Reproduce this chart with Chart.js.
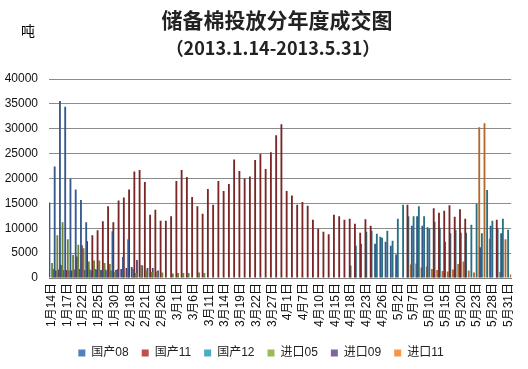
<!DOCTYPE html>
<html>
<head>
<meta charset="utf-8">
<title>储备棉投放分年度成交图</title>
<script src="https://cdn.jsdelivr.net/npm/chart.js@4.4.0/dist/chart.umd.min.js"></script>
<style>
  html, body { margin: 0; padding: 0; background: #fff; }
  #wrap { position: relative; width: 528px; height: 369px; overflow: hidden; }
  #chart { position: absolute; left: 0; top: 0; }
  .txt { position: absolute; font-family: "Noto Sans CJK SC", sans-serif; font-weight: bold; color: #222; white-space: nowrap; }
  #t1 { left: 13px; width: 528px; text-align: center; top: 9px; font-size: 21px; line-height: 21px; }
  #t2 { left: 9px; width: 528px; text-align: center; top: 38px; font-size: 18px; line-height: 18px; }
  #unit { left: 21px; top: 23px; font-size: 14px; line-height: 14px; font-weight: normal; color: #000; }
</style>
</head>
<body>
<div id="wrap">
  <canvas id="chart" width="528" height="369"></canvas>
  <div class="txt" id="t1">储备棉投放分年度成交图</div>
  <div class="txt" id="t2">（2013.1.14-2013.5.31）</div>
  <div class="txt" id="unit">吨</div>
</div>
<script>
// trading days, 1/14 - 5/31 (88 days)
var dates = [
  '1月14日','1月15日','1月16日','1月17日','1月18日','1月21日','1月22日','1月23日','1月24日','1月25日',
  '1月28日','1月29日','1月30日','1月31日','2月1日','2月18日','2月19日','2月20日','2月21日','2月22日',
  '2月25日','2月26日','2月27日','2月28日','3月1日','3月4日','3月5日','3月6日','3月7日','3月8日',
  '3月11日','3月12日','3月13日','3月14日','3月15日','3月18日','3月19日','3月20日','3月21日','3月22日',
  '3月25日','3月26日','3月27日','3月28日','3月29日','4月1日','4月2日','4月3日','4月7日','4月8日',
  '4月9日','4月10日','4月11日','4月12日','4月15日','4月16日','4月17日','4月18日','4月19日','4月22日',
  '4月23日','4月24日','4月25日','4月26日','4月27日','4月28日','5月2日','5月3日','5月6日','5月7日',
  '5月8日','5月9日','5月10日','5月13日','5月14日','5月15日','5月16日','5月17日','5月20日','5月21日',
  '5月22日','5月23日','5月24日','5月27日','5月28日','5月29日','5月30日','5月31日'
];

var seriesNames = ['国产08', '国产11', '国产12', '进口05', '进口09', '进口11'];

var guochan08 = [
  15200, 22400, 35600, 34400, 20000, 17800, 15700, 11200, 1500, 1700,
  1600, 1500, 9400, 1800, 4200, 7800, 1800, null, null, null,
  null, null, null, null, null, null, null, null, null, null,
  null, null, null, null, null, null, null, null, null, null,
  null, null, null, null, null, null, null, null, null, null,
  null, null, null, null, null, null, null, null, null, null,
  null, null, 6900, 8300, 7300, 6500, 4700, null, null, 10500,
  12400, 10500, 10200, null, null, null, null, null, null, null,
  null, null, 6200, null, 10500, null, 9000, null
];

var guochan11 = [
  null, 1500, 2600, 1600, 1500, 4300, 6600, 7400, 8600, 9600,
  11400, 14400, 11200, 15600, 16200, 17800, 21400, 21700, 19300, 12700,
  13700, 11500, 11500, 12400, 19500, 21700, 20300, 16300, 14400, 12900,
  17900, 14700, 19500, 17500, 18900, 23800, 21500, 20000, 20400, 23700,
  24900, 21900, 25300, 28700, 30900, 17500, 16600, 14700, 15300, 14500,
  11700, 9900, 9300, 8800, 12700, 12400, 11700, 11900, 10900, 9100,
  11800, 10500, null, null, null, null, null, null, 14700, null,
  null, null, null, 14000, 13100, 13500, 14600, 12300, 13800, 11900,
  null, null, null, null, null, 11700, null, null
];

var guochan12 = [
  null, null, null, null, null, null, null, null, null, null,
  null, null, null, null, null, null, null, null, null, null,
  null, null, null, null, null, null, null, null, null, null,
  null, null, null, null, null, null, null, null, null, null,
  null, null, null, null, null, null, null, null, null, null,
  null, null, null, null, null, null, null, 2500, 6500, 6900,
  9300, 9500, 8900, 8100, 9500, 7500, 11900, 14700, 12400, 12400,
  14400, 12400, 9900, 11300, 10100, 7300, 9000, 9600, 9100, 9100,
  10700, 14900, 9000, 17700, 11500, 10000, 11900, 9700
];

var jinkou05 = [
  3000, 8600, 11200, 7800, 4600, 6700, 6000, 3300, 3500, 3500,
  3000, 2800, 1200, null, null, null, 1000, 2600, 1500, 1200,
  1300, 1100, null, 900, 1000, 1000, 1000, null, 1100, 1000,
  null, null, null, null, null, null, null, null, null, null,
  null, null, null, null, null, null, null, null, null, null,
  null, null, null, null, null, null, null, null, null, null,
  null, null, null, null, null, null, null, null, null, null,
  null, null, null, null, null, null, null, null, null, null,
  null, null, null, null, null, null, null, null
];

var jinkou09 = [
  1800, 1700, 1600, 1500, 1700, 1800, 1600, 1700, 1800, 1600,
  1700, 1500, 1600, 1800, 2000, 2200, 3600, 2500, 2000, 2000,
  1500, null, null, null, null, null, null, null, null, null,
  null, null, null, null, null, null, null, null, null, null,
  null, null, null, null, null, null, null, null, null, null,
  null, null, null, null, null, null, null, null, null, null,
  null, null, null, null, null, null, null, null, null, null,
  null, null, null, null, null, null, null, null, null, null,
  null, null, null, null, null, null, null, null
];

var jinkou11 = [
  null, null, null, null, null, null, null, null, null, null,
  null, null, null, null, null, null, null, null, null, null,
  null, null, null, null, null, null, null, null, null, null,
  null, null, null, null, null, null, null, null, null, null,
  null, null, null, null, null, null, null, null, null, null,
  null, null, null, null, null, null, null, null, null, null,
  null, null, null, null, null, null, null, null, 2700, 2900,
  2100, 2300, 1800, 1600, 1400, 1300, 1700, 2800, 3300, 1500,
  1100, 30300, 31100, 7900, null, 1200, 7800, 700
];

var yTicks = [0, 5000, 10000, 15000, 20000, 25000, 30000, 35000, 40000];

// bars are thin so they read darker than the legend swatches
var barColors = ['#35598c', '#7a2626', '#27707f', '#6c8736', '#54426f', '#b5682a'];
var legendColors = ['#4f81bd', '#c0504d', '#4bacc6', '#9bbb59', '#8064a2', '#f79646'];

var seriesData = [guochan08, guochan11, guochan12, jinkou05, jinkou09, jinkou11];

var tickFont = { family: "'Liberation Sans', 'Noto Sans CJK SC', sans-serif", size: 12 };

function buildDatasets() {
  return seriesData.map(function(vals, i) {
    return {
      label: seriesNames[i],
      data: vals,
      backgroundColor: barColors[i],
      borderWidth: 0,
      categoryPercentage: 1.0,
      barPercentage: 2.1
    };
  });
}

new Chart(document.getElementById('chart').getContext('2d'), {
  type: 'bar',
  data: {
    labels: dates,
    datasets: buildDatasets()
  },
  options: {
    responsive: false,
    animation: false,
    layout: { padding: { top: 79, right: 6, left: 0, bottom: 0 } },
    plugins: {
      legend: {
        position: 'bottom',
        labels: {
          boxWidth: 7,
          boxHeight: 7,
          padding: 13,
          color: '#222',
          font: { family: "'Liberation Sans', 'Noto Sans CJK SC', sans-serif", size: 12 },
          generateLabels: function(chart) {
            return chart.data.datasets.map(function(ds, i) {
              return {
                text: ds.label,
                fillStyle: legendColors[i],
                strokeStyle: legendColors[i],
                lineWidth: 0,
                hidden: false,
                datasetIndex: i,
                fontColor: '#222'
              };
            });
          }
        }
      },
      tooltip: { enabled: false }
    },
    scales: {
      x: {
        grid: { display: false, drawTicks: false },
        border: { color: '#808080' },
        ticks: {
          autoSkip: false,
          minRotation: 90,
          maxRotation: 90,
          padding: 5,
          color: '#111',
          font: tickFont,
          callback: function(v, i) { return i % 3 === 0 ? this.getLabelForValue(v) : ''; }
        },
        afterFit: function(s) { s.height = 56; }
      },
      y: {
        min: 0,
        max: 40000,
        afterBuildTicks: function(s) { s.ticks = yTicks.map(function(v) { return { value: v }; }); },
        ticks: {
          padding: 11,
          color: '#111',
          font: tickFont,
          callback: function(v) { return String(v); }
        },
        grid: { color: '#8c8c8c', drawTicks: false },
        border: { display: false },
        afterFit: function(s) { s.width = 49; }
      }
    }
  }
});
</script>
</body>
</html>
